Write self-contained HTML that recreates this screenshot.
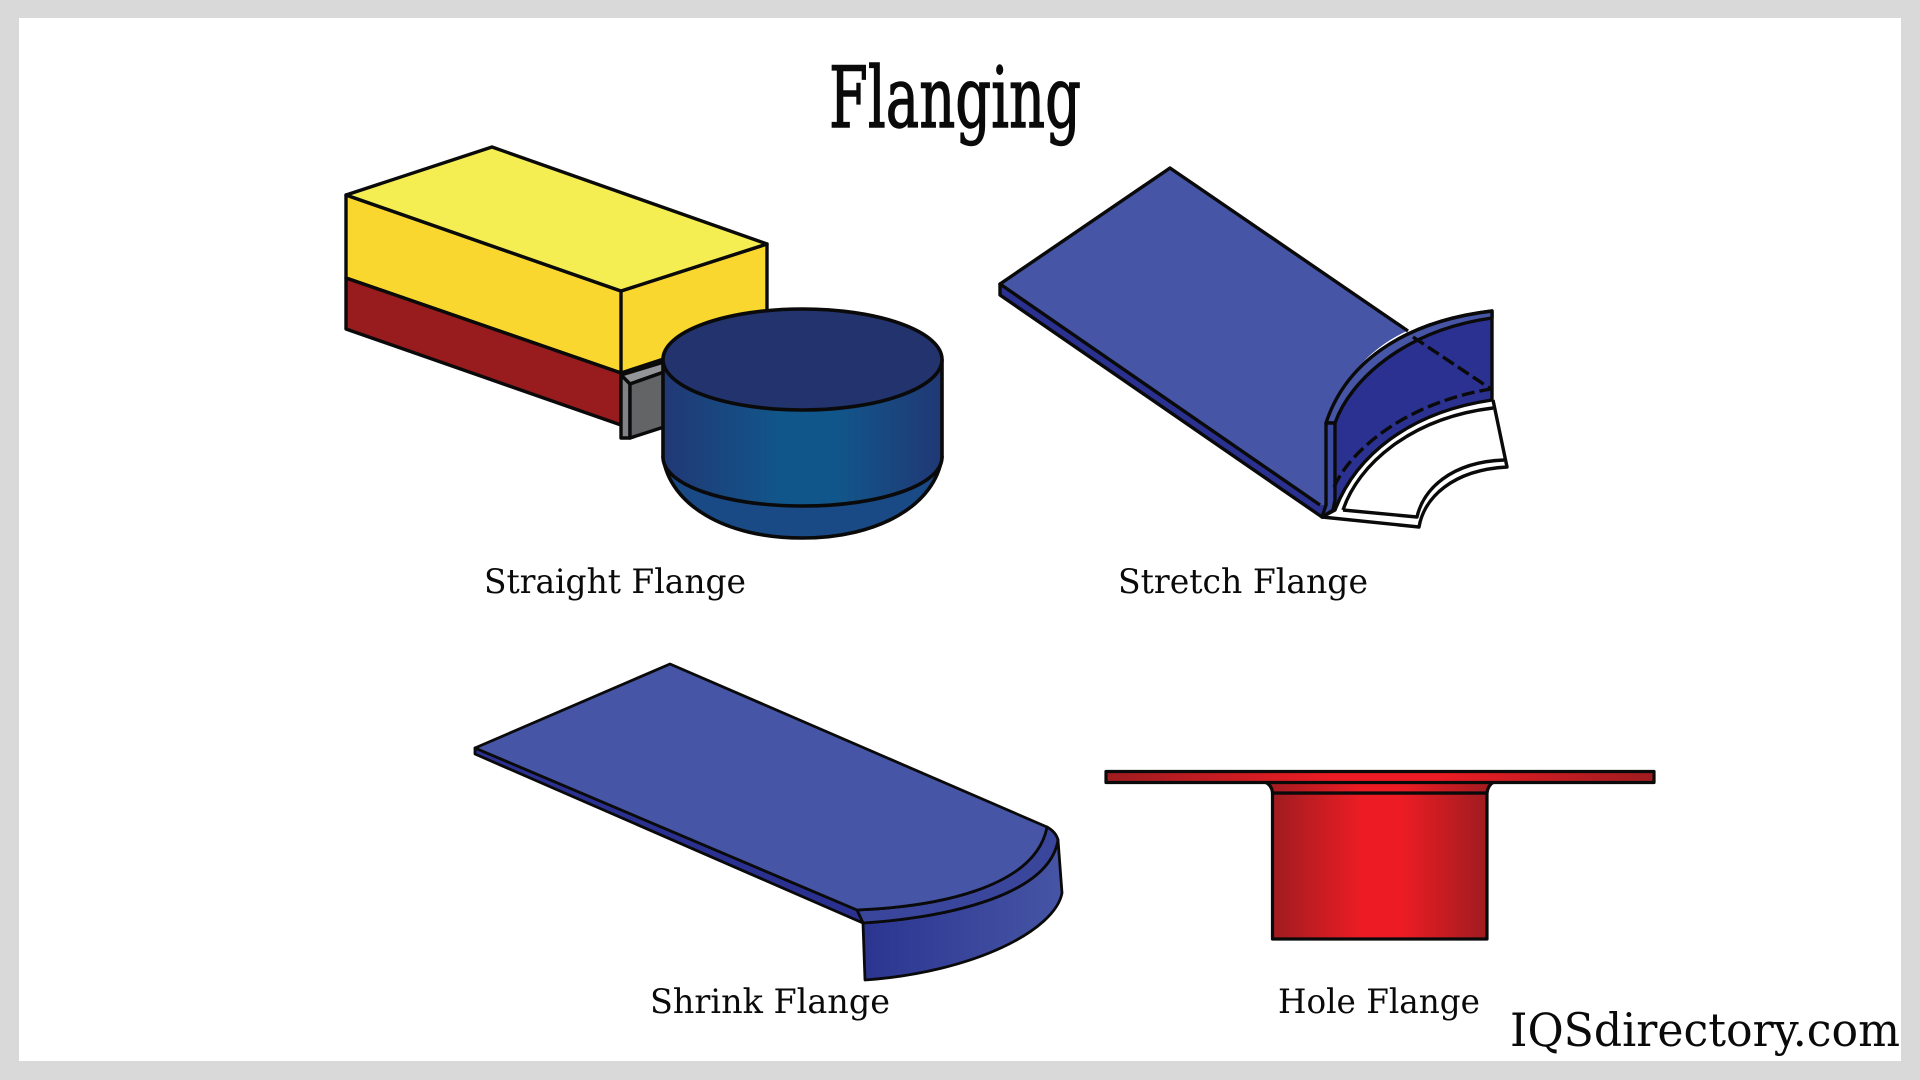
<!DOCTYPE html>
<html><head><meta charset="utf-8"><title>Flanging</title>
<style>html,body{margin:0;padding:0;background:#d9d9d9;width:1920px;height:1080px;overflow:hidden}svg{display:block}
text{font-family:"DejaVu Serif","Liberation Serif",serif;fill:#0a0a0a}</style></head><body>
<svg width="1920" height="1080" viewBox="0 0 1920 1080" xmlns="http://www.w3.org/2000/svg">
<defs>
<linearGradient id="cyl"><stop offset="0" stop-color="#213875"/><stop offset=".42" stop-color="#11568a"/><stop offset=".62" stop-color="#11568a"/><stop offset="1" stop-color="#213875"/></linearGradient>
<linearGradient id="red"><stop offset="0" stop-color="#9f1c20"/><stop offset=".42" stop-color="#ed1c24"/><stop offset=".6" stop-color="#ed1c24"/><stop offset="1" stop-color="#9f1c20"/></linearGradient>
<linearGradient id="shr"><stop offset="0" stop-color="#2b3590"/><stop offset="1" stop-color="#4655a5"/></linearGradient>
</defs>
<rect x="0" y="0" width="1920" height="1080" fill="#d9d9d9"/>
<rect x="19" y="18" width="1882" height="1043" fill="#fff"/>

<text x="829" y="127" font-size="84" textLength="252" lengthAdjust="spacingAndGlyphs" stroke="#0a0a0a" stroke-width="1.4">Flanging</text>

<!-- Straight flange -->
<g stroke="#0a0a0a" stroke-width="3.400" stroke-linejoin="round">
<polygon points="346,195 346,278 621,373 767,325 767,244 621,291" fill="#f9d72e"/>
<polygon points="346,195 492,147 767,244 621,291" fill="#f5ee52"/>
<polygon points="346,278 621,373 621,425 346,329" fill="#981b1e"/>
<line x1="621" y1="291" x2="621" y2="373"/>
<polygon points="621,375 664,362 664,372 630,384" fill="#939598"/>
<polygon points="621,375 630,384 630,438 621,438" fill="#808285"/>
<polygon points="630,384 664,372 664,427 630,438" fill="#636466"/>
<path d="M663,457 C670,505 725,538 802,538 C879,538 935,505 942,457 Z" fill="#194a85" stroke-width="3.600"/>
<path d="M663,360 V457 C663,485 725,506 802.500,506 C880,506 942,485 942,457 V360 Z" fill="url(#cyl)" stroke-width="3.600"/>
<ellipse cx="802.500" cy="359.500" rx="139.500" ry="50.500" fill="#23336d" stroke-width="3.600"/>
</g>

<!-- Stretch flange -->
<g stroke="#0a0a0a" stroke-width="3.400" stroke-linejoin="round">
<path d="M1322,517 L1419,527 C1424,498 1452,470 1507,467 L1493,400 C1410,412 1356,455 1335,510 Z" fill="#fff" stroke="none"/>
<path d="M1322,517 L1419,527 C1424,498 1452,470 1507,467 L1493,400" fill="none"/>
<path d="M1343,510 L1417,517 C1423,490 1450,462 1504,460" fill="none"/>
<path d="M1343,510 C1358,465 1410,418 1493,408" fill="none"/>
<path d="M1326,423 C1345,365 1400,322 1492,311 V400 C1410,412 1356,455 1335,510 L1322,517 Z" fill="#2b3190"/>
<path d="M1000,284 V295 L1322,517 L1333,507 L1326,423 Z" fill="#2b3190"/>
<path d="M1000,284 L1170,168 L1407,331 C1365,350 1340,385 1326,423 V500 Q1326,506 1320,505 Z" fill="#4655a5" stroke="none"/>
<path d="M1320,505 L1000,284 L1170,168 L1408,331" fill="none"/>
<path d="M1326,423 C1345,365 1400,322 1492,311 V318 C1405,330 1350,380 1335,423 Z" fill="#4655a5"/>
<path d="M1326,423 H1335 V500 L1333,510 L1322,517 L1326,505 Z" fill="#3c49a0"/>
<path d="M1334,487 C1352,447 1410,402 1491,389" fill="none" stroke-dasharray="13 5"/>
<line x1="1413" y1="337" x2="1491" y2="389" stroke-dasharray="13 5"/>
</g>

<!-- Shrink flange -->
<g stroke="#0a0a0a" stroke-width="2.800" stroke-linejoin="round">
<path d="M863,923 C930,919 1048,900 1058,840 L1062,893 C1055,930 975,972 865,980 Z" fill="url(#shr)"/>
<path d="M857,910 C930,907 1035,890 1047,827 Q1056,832 1058,840 C1048,900 930,919 863,923 Z" fill="#3a469c"/>
<path d="M475,748 V754 L863,923 L857,910 Z" fill="#2b3190"/>
<path d="M475,748 L670,664 L1047,827 C1035,890 930,907 857,910 Z" fill="#4655a5"/>
</g>

<!-- Hole flange -->
<g stroke="#0a0a0a" stroke-width="3.200" stroke-linejoin="round">
<rect x="1272.500" y="793" width="214.500" height="146" fill="url(#red)"/>
<path d="M1265,782 Q1272,785 1272.500,793 H1487 Q1488,785 1494,782 Z" fill="url(#red)"/>
<rect x="1106" y="771.500" width="548" height="11" fill="url(#red)"/>
</g>

<g font-size="34">
<text x="484" y="593" textLength="262" lengthAdjust="spacingAndGlyphs">Straight Flange</text>
<text x="1118" y="593" textLength="250" lengthAdjust="spacingAndGlyphs">Stretch Flange</text>
<text x="650" y="1013" textLength="240" lengthAdjust="spacingAndGlyphs">Shrink Flange</text>
<text x="1278" y="1013" textLength="202" lengthAdjust="spacingAndGlyphs">Hole Flange</text>
</g>
<text x="1510" y="1046" font-size="46" textLength="390" lengthAdjust="spacingAndGlyphs">IQSdirectory.com</text>
</svg>
</body></html>
